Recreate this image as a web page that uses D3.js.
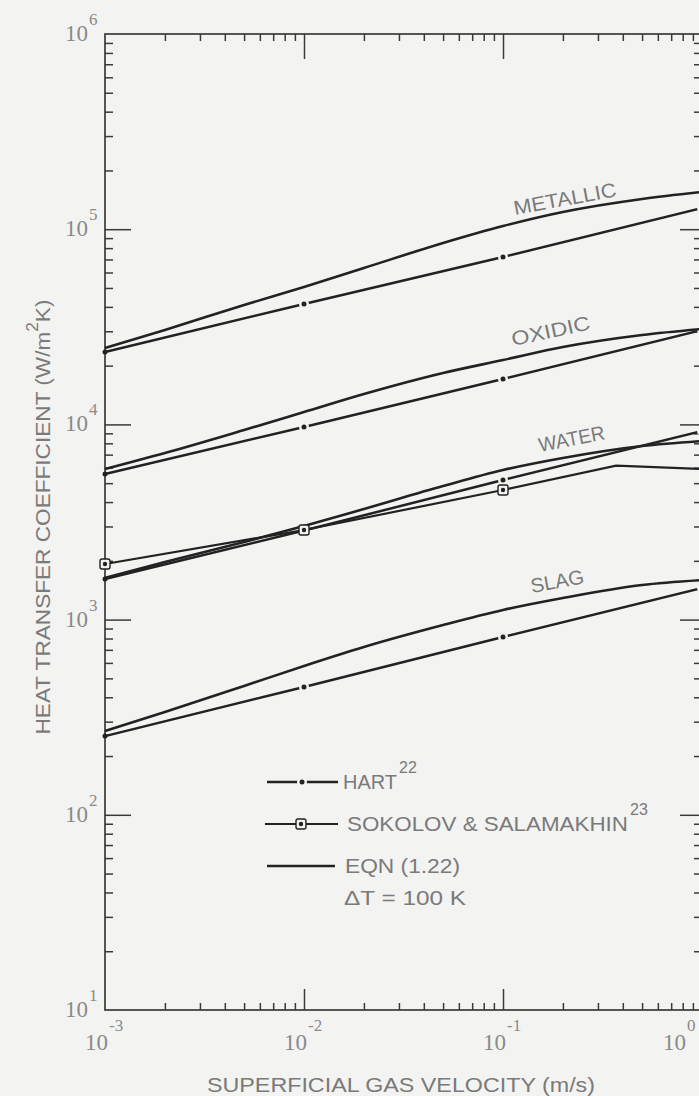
<!DOCTYPE html>
<html>
<head>
<meta charset="utf-8">
<script src="https://cdn.jsdelivr.net/npm/d3@7"></script>
<style>
  html, body { margin: 0; padding: 0; background: #f3f3f2; }
  svg { display: block; }
</style>
</head>
<body>
<svg id="chart" width="699" height="1096"></svg>
<script>
// Superficial gas velocity grid (m/s) used for the EQN (1.22) curves
const velocity = [0.001, 0.002, 0.005, 0.01, 0.02, 0.05, 0.1, 0.2, 0.5, 1];

// Heat transfer coefficient, EQN (1.22), dT = 100 K (W/m2K)
const eqnMetallic = [24600, 30450, 40900, 50600, 63270, 84990, 103800, 122500, 142800, 155100];
const eqnOxidic   = [5908, 7137, 9362, 11570, 14310, 18340, 21370, 24920, 28710, 30820];
const eqnWater    = [1634, 1973, 2498, 3016, 3687, 4835, 5838, 6729, 7751, 8222];
const eqnSlag     = [269, 336, 457, 579, 724, 938, 1120, 1290, 1504, 1595];

// Hart correlation
const hartVelocity = [0.001, 0.01, 0.1, 1];
const hartMetallic = [23500, 41400, 72050, 128400];
const hartOxidic   = [5570, 9700, 17080, 30450];
const hartWater    = [1614, 2860, 5191, 9252];
const hartSlag     = [253, 452, 815, 1452];

// Sokolov & Salamakhin data for water
const sokolovVelocity = [0.001, 0.01, 0.1, 0.37, 1];
const sokolovWater    = [1927, 2877, 4612, 6150, 5908];
const sokolovMarkerVelocity = [0.001, 0.01, 0.1];

const materials = ["METALLIC", "OXIDIC", "WATER", "SLAG"];

// Axis decades and their labels
const xDecades = [1e-3, 1e-2, 1e-1, 1];
const xTickExponents = ["-3", "-2", "-1", "0"];
const yDecades = [1e1, 1e2, 1e3, 1e4, 1e5, 1e6];
const yTickExponents = ["1", "2", "3", "4", "5", "6"];

const legendLabels = ["HART", "SOKOLOV & SALAMAKHIN", "EQN (1.22)"];
const legendRefs = ["22", "23", ""];
const legendNote = "\u0394T = 100 K";

const xTitle = "SUPERFICIAL GAS VELOCITY (m/s)";
const yTitleParts = ["HEAT TRANSFER COEFFICIENT (W/m", "2", "K)"];

// ---------------------------------------------------------------
const paper = "#f3f3f2";
const ink = "#222222";
const axisInk = "#3a3a3a";
const textInk = "#7a7a7a";
const tickInk = "#8a8a8a";
const sans = "'Liberation Sans', Arial, sans-serif";
const serif = "'Liberation Serif', 'Times New Roman', serif";

const svg = d3.select("#chart");
svg.append("rect").attr("width", 699).attr("height", 1096).attr("fill", paper);

const x = d3.scaleLog().domain([1e-3, 1]).range([105, 702]);
const y = d3.scaleLog().domain([10, 1e6]).range([1010, 34]);

const x0 = x.range()[0], x1 = x.range()[1];
const yTop = y.range()[1], yBot = y.range()[0];

// minor tick values
const xMinor = [];
xDecades.slice(0, -1).forEach(d => { for (let k = 2; k <= 9; k++) xMinor.push(d * k); });
const yMinor = [];
yDecades.slice(0, -1).forEach(d => { for (let k = 2; k <= 9; k++) yMinor.push(d * k); });
const xMajorInner = xDecades.slice(1, -1);
const yMajorInner = yDecades.slice(1, -1);

function stripDomain(g) { g.select(".domain").remove(); g.selectAll("line").attr("stroke-width", 1.5); }

const axes = svg.append("g").attr("color", axisInk);

// inward ticks on all four sides
axes.append("g").attr("transform", `translate(0,${yTop})`)
  .call(d3.axisTop(x).tickValues(xMinor).tickSize(-7).tickFormat("")).call(stripDomain);
axes.append("g").attr("transform", `translate(0,${yTop})`)
  .call(d3.axisTop(x).tickValues(xMajorInner).tickSize(-25).tickFormat("")).call(stripDomain);
axes.append("g").attr("transform", `translate(0,${yBot})`)
  .call(d3.axisBottom(x).tickValues(xMinor).tickSize(-7).tickFormat("")).call(stripDomain);
axes.append("g").attr("transform", `translate(0,${yBot})`)
  .call(d3.axisBottom(x).tickValues(xMajorInner).tickSize(-21).tickFormat("")).call(stripDomain);
axes.append("g").attr("transform", `translate(${x0},0)`)
  .call(d3.axisLeft(y).tickValues(yMinor).tickSize(-8).tickFormat("")).call(stripDomain);
axes.append("g").attr("transform", `translate(${x0},0)`)
  .call(d3.axisLeft(y).tickValues(yMajorInner).tickSize(-26).tickFormat("")).call(stripDomain);
axes.append("g").attr("transform", `translate(${x1},0)`)
  .call(d3.axisRight(y).tickValues(yMinor).tickSize(-8).tickFormat("")).call(stripDomain);
axes.append("g").attr("transform", `translate(${x1},0)`)
  .call(d3.axisRight(y).tickValues(yMajorInner).tickSize(-22).tickFormat("")).call(stripDomain);

// frame
svg.append("rect")
  .attr("x", x0).attr("y", yTop).attr("width", x1 - x0).attr("height", yBot - yTop)
  .attr("fill", "none").attr("stroke", axisInk).attr("stroke-width", 1.7);

// y tick labels: 10 with superscript exponent
const yLab = svg.append("g").attr("font-family", serif).attr("fill", tickInk);
yDecades.forEach((d, i) => {
  yLab.append("text").attr("x", x0 - 17).attr("y", y(d) + 7)
    .attr("text-anchor", "end").attr("font-size", 23).text("10");
  yLab.append("text").attr("x", x0 - 16).attr("y", y(d) - 9)
    .attr("font-size", 17).text(yTickExponents[i]);
});

// x tick labels (the last one is pulled inside the right edge)
const xLab = svg.append("g").attr("font-family", serif).attr("fill", tickInk);
xDecades.forEach((d, i) => {
  const shift = (i === xDecades.length - 1) ? -19 : 0;
  const px = x(d) + 3 + shift;
  xLab.append("text").attr("x", px).attr("y", 1050)
    .attr("text-anchor", "end").attr("font-size", 23).text("10");
  xLab.append("text").attr("x", px + 1).attr("y", 1031)
    .attr("font-size", 17).text(xTickExponents[i]);
});

// axis titles
svg.append("text")
  .attr("x", 401).attr("y", 1092).attr("text-anchor", "middle")
  .attr("font-family", sans).attr("font-size", 21).attr("fill", textInk)
  .attr("textLength", 388).attr("lengthAdjust", "spacingAndGlyphs")
  .text(xTitle);

const yt = svg.append("text")
  .attr("transform", "translate(50,517) rotate(-90)")
  .attr("text-anchor", "middle")
  .attr("font-family", sans).attr("font-size", 21).attr("fill", textInk)
  .attr("textLength", 435).attr("lengthAdjust", "spacingAndGlyphs");
yt.append("tspan").text(yTitleParts[0]);
yt.append("tspan").attr("dy", -12).attr("font-size", 16).text(yTitleParts[1]);
yt.append("tspan").attr("dy", 12).text(yTitleParts[2]);

// ---------------------------------------------------------------
// curves
const smooth = d3.line().x(d => x(d[0])).y(d => y(d[1])).curve(d3.curveMonotoneX);
const straight = d3.line().x(d => x(d[0])).y(d => y(d[1]));
const zip = (a, b) => a.map((v, i) => [v, b[i]]);

const plot = svg.append("g");

const hartSeries = [hartMetallic, hartOxidic, hartWater, hartSlag];
const eqnSeries = [eqnMetallic, eqnOxidic, eqnWater, eqnSlag];

// Hart lines with a small break around every plotted point
hartSeries.forEach(s => {
  plot.append("path").attr("d", straight(zip(hartVelocity, s)))
    .attr("fill", "none").attr("stroke", ink).attr("stroke-width", 2.5);
});
hartSeries.forEach(s => {
  zip(hartVelocity, s).slice(1).forEach(p => {
    plot.append("circle").attr("cx", x(p[0])).attr("cy", y(p[1])).attr("r", 5).attr("fill", paper);
  });
  zip(hartVelocity, s).forEach(p => {
    plot.append("circle").attr("cx", x(p[0])).attr("cy", y(p[1])).attr("r", 2.5).attr("fill", ink);
  });
});

// EQN (1.22) curves
eqnSeries.forEach(s => {
  plot.append("path").attr("d", smooth(zip(velocity, s)))
    .attr("fill", "none").attr("stroke", ink).attr("stroke-width", 2.6);
});

// Sokolov & Salamakhin
plot.append("path").attr("d", straight(zip(sokolovVelocity, sokolovWater)))
  .attr("fill", "none").attr("stroke", ink).attr("stroke-width", 2.2);

function sokolovMarker(g, cx, cy) {
  g.append("rect").attr("x", cx - 5).attr("y", cy - 5).attr("width", 10).attr("height", 10)
    .attr("rx", 2).attr("fill", paper).attr("stroke", ink).attr("stroke-width", 1.4);
  g.append("circle").attr("cx", cx).attr("cy", cy).attr("r", 2.2).attr("fill", ink);
}
zip(sokolovVelocity, sokolovWater)
  .filter(p => sokolovMarkerVelocity.includes(p[0]))
  .forEach(p => sokolovMarker(plot, x(p[0]), y(p[1])));

// material labels along the curves
const labelSpecs = [
  { at: [0.1149, 118200], angle: -10.5, len: 104 },
  { at: [0.1123, 25210], angle: -12, len: 80 },
  { at: [0.1534, 7222], angle: -11, len: 67 },
  { at: [0.1398, 1368], angle: -10.5, len: 54 }
];
materials.forEach((m, i) => {
  const s = labelSpecs[i];
  svg.append("text")
    .attr("transform", `translate(${x(s.at[0])},${y(s.at[1])}) rotate(${s.angle})`)
    .attr("font-family", sans).attr("font-size", 20).attr("fill", textInk)
    .attr("textLength", s.len).attr("lengthAdjust", "spacingAndGlyphs")
    .text(m);
});

// ---------------------------------------------------------------
// legend
const lg = svg.append("g");
const rows = [782, 824, 866];
const lx0 = 267, lx1 = 338, lmid = 302;

// Hart sample
lg.append("line").attr("x1", lx0).attr("x2", lx1).attr("y1", rows[0]).attr("y2", rows[0])
  .attr("stroke", ink).attr("stroke-width", 2.5);
lg.append("circle").attr("cx", lmid).attr("cy", rows[0]).attr("r", 5).attr("fill", paper);
lg.append("circle").attr("cx", lmid).attr("cy", rows[0]).attr("r", 2.5).attr("fill", ink);
// Sokolov sample
lg.append("line").attr("x1", lx0 - 2).attr("x2", lx1).attr("y1", rows[1]).attr("y2", rows[1])
  .attr("stroke", ink).attr("stroke-width", 2.2);
sokolovMarker(lg, lmid - 1, rows[1]);
// EQN sample
lg.append("line").attr("x1", lx0).attr("x2", lx1 - 3).attr("y1", rows[2]).attr("y2", rows[2])
  .attr("stroke", ink).attr("stroke-width", 2.6);

const legendWidths = [54, 281, 115];
const legendStarts = [343, 347, 345];
legendLabels.forEach((t, i) => {
  lg.append("text").attr("x", legendStarts[i]).attr("y", rows[i] + 7)
    .attr("font-family", sans).attr("font-size", 20).attr("fill", textInk)
    .attr("textLength", legendWidths[i]).attr("lengthAdjust", "spacingAndGlyphs")
    .text(t);
  if (legendRefs[i]) {
    lg.append("text").attr("x", legendStarts[i] + legendWidths[i] + 2).attr("y", rows[i] - 9)
      .attr("font-family", sans).attr("font-size", 16).attr("fill", textInk)
      .text(legendRefs[i]);
  }
});
lg.append("text").attr("x", 344).attr("y", 905)
  .attr("font-family", sans).attr("font-size", 20).attr("fill", textInk)
  .attr("textLength", 122).attr("lengthAdjust", "spacingAndGlyphs")
  .text(legendNote);
</script>
</body>
</html>
